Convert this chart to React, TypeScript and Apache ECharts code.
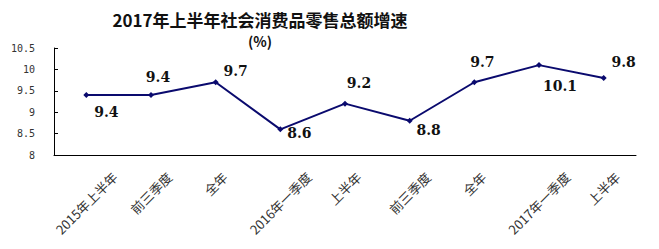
import React, { useEffect, useRef } from "react";
import * as echarts from "echarts";

const categories = [
  "2015年上半年",
  "前三季度",
  "全年",
  "2016年一季度",
  "上半年",
  "前三季度",
  "全年",
  "2017年一季度",
  "上半年",
];
const growth = [9.4, 9.4, 9.7, 8.6, 9.2, 8.8, 9.7, 10.1, 9.8];
const yTicks = { min: 8, max: 10.5, interval: 0.5 };
const titleText = "2017年上半年社会消费品零售总额增速";
const unitText = "(%)";

// label placement (style only)
const labelOffsets: [number, number][] = [
  [20, 17], [7, -18], [20, -11], [19, 4], [14, -21], [19, 9], [8, -20], [21, 21], [20, -16],
];

const XF = 13;
function textWidth(s: string) {
  let w = 0;
  for (const ch of s) w += /[0-9]/.test(ch) ? XF * 0.55 : XF;
  return w;
}

export default function App() {
  const ref = useRef<HTMLDivElement>(null);
  useEffect(() => {
    if (!ref.current) return;
    const chart = echarts.init(ref.current, undefined, { renderer: "svg" });
    // rotated labels: shift each label so that its top sits just under the axis
    const rich: Record<string, any> = {
      t: { fontSize: XF, color: "#333", fontFamily: "Noto Sans CJK SC", lineHeight: XF + 2 },
    };
    categories.forEach((c, i) => {
      const p = (textWidth(c) + XF) / 2;
      rich["s" + i] = { width: p, fontSize: XF, lineHeight: XF + 2 };
      rich["v" + i] = { height: p, lineHeight: p, fontSize: 2 };
    });
    chart.setOption({
      animation: false,
      backgroundColor: "#fff",
      textStyle: { fontFamily: "Noto Sans CJK SC" },
      graphic: [
        {
          type: "text",
          x: 260,
          y: 19,
          style: {
            text: titleText,
            align: "center",
            verticalAlign: "middle",
            font: "bold 17px 'Noto Sans CJK SC'",
            fill: "#111",
          },
        },
        {
          type: "text",
          x: 260,
          y: 41,
          style: {
            text: unitText,
            align: "center",
            verticalAlign: "middle",
            font: "bold 14px 'Noto Sans CJK SC'",
            fill: "#111",
          },
        },
      ],
      grid: { left: 54, right: 23, top: 48, bottom: 94, outerBoundsMode: "none" },
      xAxis: {
        type: "category",
        data: categories,
        boundaryGap: true,
        axisLine: { lineStyle: { color: "#000", width: 1 } },
        axisTick: { inside: true, length: 4, lineStyle: { color: "#000" } },
        axisLabel: {
          interval: 0,
          rotate: 45,
          align: "center",
          verticalAlign: "middle",
          margin: 15,
          fontSize: XF,
          color: "#333",
          fontFamily: "Noto Sans CJK SC",
          hideOverlap: false,
          formatter: (v: string, i: number) => `{v${i}| }\n{t|${v}}{s${i}| }`,
          rich,
        },
      },
      yAxis: {
        type: "value",
        min: yTicks.min,
        max: yTicks.max,
        interval: yTicks.interval,
        axisLine: { show: true, lineStyle: { color: "#000", width: 1 } },
        axisTick: { show: true, inside: true, length: 4, lineStyle: { color: "#000" } },
        splitLine: { show: false },
        axisLabel: {
          margin: 19,
          fontSize: 10,
          color: "#333",
          fontFamily: "DejaVu Sans Mono",
        },
      },
      series: [
        {
          type: "line",
          data: growth.map((v, i) => ({
            value: v,
            label: { offset: labelOffsets[i] },
          })),
          symbol: "diamond",
          symbolSize: 6,
          lineStyle: { color: "#0a0a6e", width: 2 },
          itemStyle: { color: "#0a0a6e" },
          label: {
            show: true,
            position: "inside",
            align: "center",
            verticalAlign: "middle",
            color: "#111",
            fontFamily: "DejaVu Serif",
            fontWeight: "bold",
            fontSize: 14,
            formatter: (p: any) => String(p.value),
          },
        },
      ],
    });
    return () => chart.dispose();
  }, []);
  return (
    <div
      ref={ref}
      style={{ position: "fixed", left: 0, top: 0, width: 659, height: 249 }}
    />
  );
}
